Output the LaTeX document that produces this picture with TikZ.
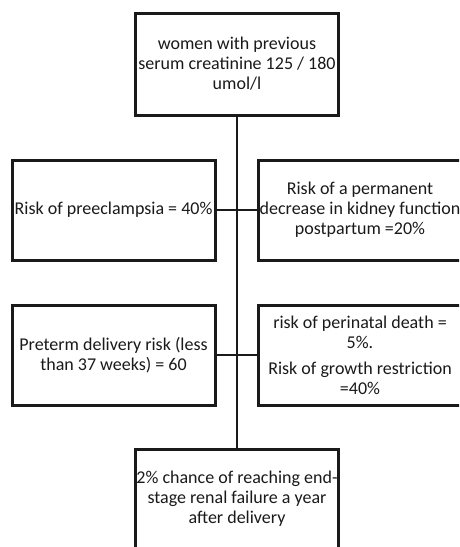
\documentclass[tikz,border=0pt]{standalone}
\usepackage{fontspec}
\setmainfont{Carlito}
\usepackage{tikz}
\usetikzlibrary{positioning}
\definecolor{ink}{HTML}{1A1A1A}

\begin{document}
\begin{tikzpicture}[
  x=1pt, y=-1pt,
  box/.style={draw=ink, line width=3pt, fill=white, minimum width=203pt, minimum height=100pt,
    inner sep=0pt, align=center, text=ink, font=\fontsize{18}{20}\selectfont},
  link/.style={draw=ink, line width=2.8pt}
]
\useasboundingbox (0,0) rectangle (459,547);
\clip (0,0) rectangle (459,547);
\fill[white] (0,0) rectangle (459,547);

% boxes, all hung on the trunk at x=237
\node[box, minimum height=102pt] (women) at (237,64) {women with previous\\serum creatinine 125 / 180\\umol/l};
\node[box] (preecl) at (113.5,210) {Risk of preeclampsia = 40\%};
\node[box] (kidney) at (360,210) {Risk of a permanent\\decrease in kidney function\\postpartum =20\%};
\node[box] (preterm) at (113.5,355) {Preterm delivery risk (less\\than 37 weeks) = 60};
\node[box] (perinat) at (360,355) {risk of perinatal death =\\5\%.\\[6pt]Risk of growth restriction\\=40\%};
\node[box] (esrf) at (237,499) {2\% chance of reaching end-\\stage renal failure a year\\after delivery};

\draw[link] (women.south) -- (esrf.north);
\draw[link] (preecl.east) -- (kidney.west);
\draw[link] (preterm.east) -- (perinat.west);
\end{tikzpicture}
\end{document}
